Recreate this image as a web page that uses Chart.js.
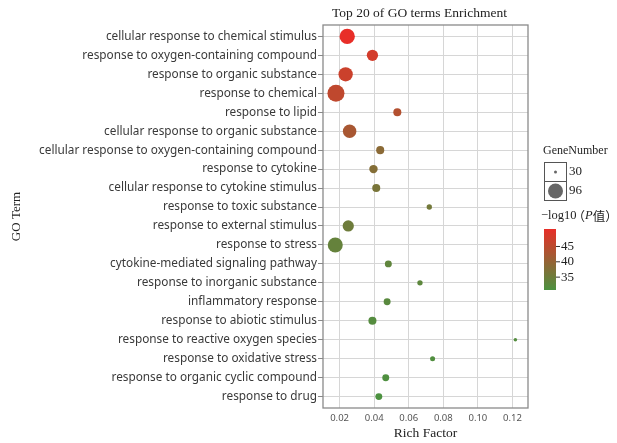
<!DOCTYPE html>
<html>
<head>
<meta charset="utf-8">
<script src="https://cdn.jsdelivr.net/npm/chart.js@4.4.0/dist/chart.umd.min.js"></script>
<style>
html, body { margin: 0; padding: 0; background: #fff; }
</style>
</head>
<body>
<canvas id="chart-go-bubble" width="617" height="443"></canvas>
<script>
var terms = [
	'cellular response to chemical stimulus',
	'response to oxygen-containing compound',
	'response to organic substance',
	'response to chemical',
	'response to lipid',
	'cellular response to organic substance',
	'cellular response to oxygen-containing compound',
	'response to cytokine',
	'cellular response to cytokine stimulus',
	'response to toxic substance',
	'response to external stimulus',
	'response to stress',
	'cytokine-mediated signaling pathway',
	'response to inorganic substance',
	'inflammatory response',
	'response to abiotic stimulus',
	'response to reactive oxygen species',
	'response to oxidative stress',
	'response to organic cyclic compound',
	'response to drug'
];
var richFactor = [0.0244, 0.0390, 0.0235, 0.0179, 0.0534, 0.0258, 0.0435, 0.0396, 0.0412, 0.0719,
	0.0250, 0.0175, 0.0482, 0.0665, 0.0475, 0.0390, 0.1217, 0.0738, 0.0467, 0.0427];
var geneNumber = [99, 66, 90, 116, 47, 83, 47, 49, 47, 36, 66, 96, 42, 36, 42, 47, 31, 35, 42, 42];
var logP = [50.7, 48.0, 47.0, 45.5, 44.0, 42.5, 38.8, 38.0, 36.5, 35.8,
	35.2, 34.0, 33.3, 33.0, 32.5, 32.0, 31.8, 31.5, 31.2, 30.8];
var xTicks = [0.02, 0.04, 0.06, 0.08, 0.10, 0.12];
var sizeBreaks = [30, 96];
var colorBreaks = [45, 40, 35];

var serif = '"Liberation Serif", "DejaVu Serif", serif';
var sans = '"Noto Sans", "Open Sans", sans-serif';
var lowColor = [76, 146, 64], highColor = [232, 46, 40];
var pMin = Math.min.apply(null, logP), pMax = Math.max.apply(null, logP);

function sizeOf(n) {
	return Math.sqrt(2.25 + 0.818 * (n - 30));
}
function colorOf(v) {
	var t = (v - pMin) / (pMax - pMin);
	var c = lowColor.map(function(lo, i) { return Math.round(lo + (highColor[i] - lo) * t); });
	return 'rgb(' + c.join(',') + ')';
}

var points = richFactor.map(function(v, i) { return {x: v, y: i + 1}; });

var decorations = {
	id: 'decorations',
	afterDraw: function(chart) {
		var ctx = chart.ctx, a = chart.chartArea;
		ctx.save();
		// plot frame
		ctx.strokeStyle = '#8a8a8a';
		ctx.lineWidth = 1.3;
		ctx.strokeRect(a.left, a.top, a.right - a.left, a.bottom - a.top);

		// title
		ctx.fillStyle = '#222';
		ctx.font = '13.5px ' + serif;
		ctx.textAlign = 'center';
		ctx.textBaseline = 'middle';
		ctx.fillText('Top 20 of GO terms Enrichment', (a.left + a.right) / 2 - 6, 13);

		// size legend
		ctx.textAlign = 'left';
		ctx.font = '12px ' + serif;
		ctx.fillText('GeneNumber', 543, 151);
		ctx.strokeStyle = '#555';
		ctx.lineWidth = 1;
		sizeBreaks.forEach(function(n, i) {
			var top = 162 + i * 19;
			ctx.strokeRect(544.5, top + 0.5, 22, 19);
			ctx.fillStyle = '#666';
			ctx.beginPath();
			ctx.arc(555.5, top + 10, sizeOf(n), 0, Math.PI * 2);
			ctx.fill();
			ctx.fillStyle = '#222';
			ctx.font = '13px ' + serif;
			ctx.fillText(String(n), 569, top + 10);
		});

		// colour legend title
		var x = 541, y = 216;
		ctx.font = '12.5px ' + serif;
		ctx.fillText('\u2212log10', x, y);
		x += ctx.measureText('\u2212log10').width - 4;
		ctx.font = '12.5px "Noto Sans CJK SC", ' + serif;
		ctx.fillText('\uFF08', x, y);
		x += ctx.measureText('\uFF08').width;
		ctx.font = 'italic 12.5px ' + serif;
		ctx.fillText('P', x, y);
		x += ctx.measureText('P').width;
		ctx.font = '12.5px "Noto Sans CJK SC", ' + serif;
		ctx.fillText('\u503C\uFF09', x, y);

		// colour bar
		var bx = 544, by = 229, bw = 12, bh = 61;
		var grad = ctx.createLinearGradient(0, by, 0, by + bh);
		for (var s = 0; s <= 10; s++) {
			grad.addColorStop(s / 10, colorOf(pMax - (pMax - pMin) * s / 10));
		}
		ctx.fillStyle = grad;
		ctx.fillRect(bx, by, bw, bh);
		ctx.strokeStyle = '#333';
		ctx.fillStyle = '#222';
		ctx.font = '13px ' + serif;
		colorBreaks.forEach(function(v) {
			var ty = by + (pMax - v) / (pMax - pMin) * bh;
			ctx.beginPath();
			ctx.moveTo(bx + bw, ty);
			ctx.lineTo(bx + bw + 4, ty);
			ctx.stroke();
			ctx.fillText(String(v), bx + bw + 5, ty);
		});
		ctx.restore();
	}
};

var canvas = document.getElementById('chart-go-bubble');
var chart = new Chart(canvas, {
	type: 'scatter',
	data: {
		datasets: [{
			data: points,
			pointRadius: function(c) { return sizeOf(geneNumber[c.dataIndex]); },
			pointHoverRadius: function(c) { return sizeOf(geneNumber[c.dataIndex]); },
			backgroundColor: function(c) { return colorOf(logP[c.dataIndex]); },
			borderWidth: 0
		}]
	},
	options: {
		responsive: false,
		animation: false,
		layout: {padding: {top: 25, right: 89, bottom: 0, left: 0}},
		plugins: {
			legend: {display: false},
			tooltip: {enabled: false}
		},
		scales: {
			x: {
				type: 'linear',
				min: 0.0104,
				max: 0.129,
				afterBuildTicks: function(scale) {
					scale.ticks = xTicks.map(function(v) { return {value: v}; });
				},
				afterFit: function(scale) { scale.height = 35; },
				border: {display: false},
				grid: {color: '#d6d6d6', lineWidth: 1, tickLength: 3, tickColor: 'rgba(0,0,0,0)'},
				ticks: {
					color: '#555',
					font: {family: sans, size: 9.5},
					padding: 2,
					maxRotation: 0,
					callback: function(v) { return v.toFixed(2); }
				},
				title: {
					display: true,
					text: 'Rich Factor',
					color: '#222',
					font: {family: serif, size: 13.5},
					padding: {top: 4, bottom: 1}
				}
			},
			y: {
				type: 'linear',
				min: 0.4,
				max: 20.6,
				reverse: true,
				afterBuildTicks: function(scale) {
					scale.ticks = terms.map(function(t, i) { return {value: i + 1}; });
				},
				afterFit: function(scale) { scale.width = 323; },
				border: {display: false},
				grid: {color: '#d6d6d6', lineWidth: 1, tickLength: 5, tickColor: '#888'},
				ticks: {
					color: '#3a3a3a',
					font: {family: sans, size: 11.8},
					padding: 1,
					callback: function(v) { return terms[v - 1]; }
				},
				title: {
					display: true,
					text: 'GO Term',
					color: '#222',
					font: {family: serif, size: 13},
					padding: {top: 9, bottom: 0}
				}
			}
		}
	},
	plugins: [decorations]
});
</script>
</body>
</html>
